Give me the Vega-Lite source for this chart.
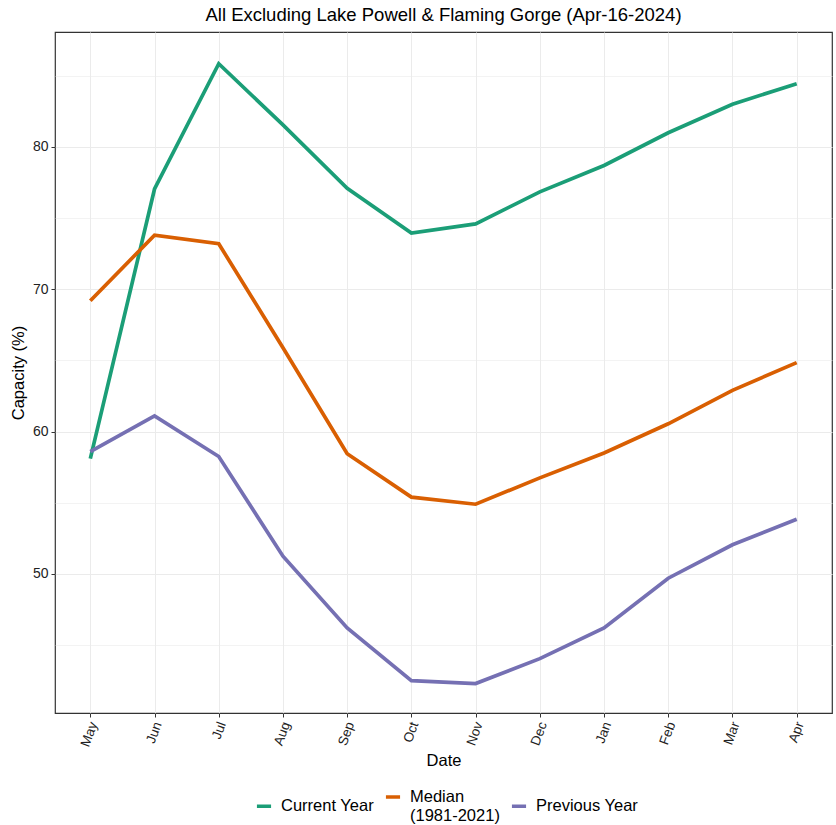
{
  "$schema": "https://vega.github.io/schema/vega-lite/v6.json",
  "autosize": {"type": "none"},
  "width": 777,
  "height": 681,
  "padding": {"left": 55, "right": 4, "top": 32, "bottom": 112},
  "background": "white",
  "config": {
    "font": "Liberation Sans",
    "view": {"stroke": "#333333", "strokeWidth": 1.2},
    "axis": {"labelFont": "Liberation Sans", "titleFont": "Liberation Sans"}
  },
  "title": {"text": "All Excluding Lake Powell & Flaming Gorge (Apr-16-2024)", "fontSize": 18.5, "fontWeight": "normal", "color": "#000000", "font": "Liberation Sans", "offset": 8},
  "data": {"values": [
    {"month": "May", "series": "Current Year", "value": 58.1},
    {"month": "Jun", "series": "Current Year", "value": 77.05},
    {"month": "Jul", "series": "Current Year", "value": 85.85},
    {"month": "Aug", "series": "Current Year", "value": 81.55},
    {"month": "Sep", "series": "Current Year", "value": 77.1},
    {"month": "Oct", "series": "Current Year", "value": 73.95},
    {"month": "Nov", "series": "Current Year", "value": 74.6},
    {"month": "Dec", "series": "Current Year", "value": 76.85},
    {"month": "Jan", "series": "Current Year", "value": 78.7},
    {"month": "Feb", "series": "Current Year", "value": 81.0},
    {"month": "Mar", "series": "Current Year", "value": 83.0},
    {"month": "Apr", "series": "Current Year", "value": 84.45},
    {"month": "May", "series": "Median (1981-2021)", "value": 69.2},
    {"month": "Jun", "series": "Median (1981-2021)", "value": 73.8},
    {"month": "Jul", "series": "Median (1981-2021)", "value": 73.2},
    {"month": "Aug", "series": "Median (1981-2021)", "value": 65.9},
    {"month": "Sep", "series": "Median (1981-2021)", "value": 58.45},
    {"month": "Oct", "series": "Median (1981-2021)", "value": 55.4},
    {"month": "Nov", "series": "Median (1981-2021)", "value": 54.9},
    {"month": "Dec", "series": "Median (1981-2021)", "value": 56.75},
    {"month": "Jan", "series": "Median (1981-2021)", "value": 58.5},
    {"month": "Feb", "series": "Median (1981-2021)", "value": 60.55},
    {"month": "Mar", "series": "Median (1981-2021)", "value": 62.9},
    {"month": "Apr", "series": "Median (1981-2021)", "value": 64.85},
    {"month": "May", "series": "Previous Year", "value": 58.6},
    {"month": "Jun", "series": "Previous Year", "value": 61.1},
    {"month": "Jul", "series": "Previous Year", "value": 58.25},
    {"month": "Aug", "series": "Previous Year", "value": 51.25},
    {"month": "Sep", "series": "Previous Year", "value": 46.2},
    {"month": "Oct", "series": "Previous Year", "value": 42.5},
    {"month": "Nov", "series": "Previous Year", "value": 42.3},
    {"month": "Dec", "series": "Previous Year", "value": 44.05},
    {"month": "Jan", "series": "Previous Year", "value": 46.2},
    {"month": "Feb", "series": "Previous Year", "value": 49.7},
    {"month": "Mar", "series": "Previous Year", "value": 52.05},
    {"month": "Apr", "series": "Previous Year", "value": 53.85}
  ]},
  "mark": {"type": "line", "strokeWidth": 3.7, "strokeCap": "butt", "strokeJoin": "miter"},
  "encoding": {
    "x": {
      "field": "month", "type": "ordinal",
      "sort": ["May","Jun","Jul","Aug","Sep","Oct","Nov","Dec","Jan","Feb","Mar","Apr"],
      "scale": {"type": "point", "padding": 0.55},
      "axis": {
        "title": "Date", "titleFontSize": 16.5, "titleFontWeight": "normal", "titleColor": "#000000", "titlePadding": 4,
        "labelAngle": -70, "labelAlign": "right", "labelBaseline": "middle", "labelFontSize": 13.5, "labelColor": "#222222", "labelPadding": 5, "labelOffset": 3,
        "domain": false, "ticks": true, "tickColor": "#333333", "tickSize": 4,
        "grid": true, "gridColor": "#EBEBEB", "gridWidth": 1
      }
    },
    "y": {
      "field": "value", "type": "quantitative",
      "scale": {"domain": [40.23, 88.08], "nice": false, "zero": false},
      "axis": {
        "title": "Capacity (%)", "titleFontSize": 16.5, "titleFontWeight": "normal", "titleColor": "#000000", "titlePadding": 6,
        "values": [45, 50, 55, 60, 65, 70, 75, 80, 85],
        "labelExpr": "datum.value % 10 == 0 ? datum.label : ''",
        "labelFontSize": 14, "labelColor": "#222222", "labelPadding": 3,
        "domain": false, "tickColor": "#333333", "tickSize": 4,
        "tickOpacity": {"condition": {"test": "datum.value % 10 == 0", "value": 1}, "value": 0},
        "grid": true, "gridColor": "#EBEBEB",
        "gridWidth": {"condition": {"test": "datum.value % 10 == 0", "value": 1.1}, "value": 0.6}
      }
    },
    "color": {
      "field": "series", "type": "nominal",
      "scale": {"domain": ["Current Year", "Median (1981-2021)", "Previous Year"], "range": ["#1B9E77", "#D95F02", "#7570B3"]},
      "legend": {
        "orient": "none", "legendX": 200, "legendY": 756, "direction": "horizontal", "title": null,
        "symbolType": "stroke", "symbolStrokeWidth": 3.5, "symbolSize": 200, "labelOffset": 8,
        "labelFontSize": 16.5, "labelColor": "#000000", "columnPadding": 4,
        "labelExpr": "datum.label == 'Median (1981-2021)' ? ['\u00a0\u00a0Median', '(1981-2021)'] : datum.label"
      }
    }
  }
}
